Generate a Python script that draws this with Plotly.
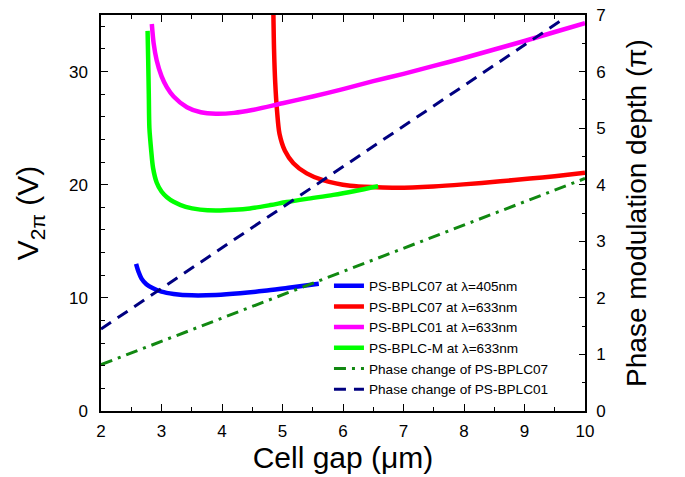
import plotly.graph_objects as go

# ---- data ----
blue_x = [2.58, 2.62, 2.67, 2.75, 2.86, 3.0, 3.2, 3.5, 3.9, 4.3, 4.7, 5.1, 5.6]
blue_v = [13.0, 12.3, 11.7, 11.2, 10.85, 10.55, 10.35, 10.22, 10.25, 10.4, 10.62, 10.9, 11.25]

red_x = [4.85, 4.86, 4.88, 4.91, 4.95, 5.04, 5.18, 5.4, 5.67, 6.12, 6.56, 6.89, 7.49, 7.99, 8.6, 9.09, 9.5, 10.0]
red_v = [35.0, 32.0, 29.0, 26.5, 24.5, 23.0, 21.9, 21.0, 20.4, 19.9, 19.78, 19.74, 19.85, 20.03, 20.3, 20.54, 20.75, 21.05]

mag_x = [2.84, 2.87, 2.92, 3.0, 3.09, 3.2, 3.42, 3.65, 3.9, 4.2, 4.5, 5.0, 5.5, 6.0, 6.5, 7.0, 7.5, 8.0, 8.5, 9.0, 9.5, 10.0]
mag_v = [34.2, 32.5, 31.0, 29.6, 28.6, 27.8, 26.85, 26.4, 26.27, 26.35, 26.6, 27.2, 27.8, 28.45, 29.15, 29.8, 30.5, 31.2, 31.95, 32.7, 33.5, 34.27]

grn_x = [2.77, 2.78, 2.79, 2.8, 2.83, 2.86, 2.92, 3.0, 3.09, 3.2, 3.4, 3.64, 3.9, 4.2, 4.46, 4.8, 5.07, 5.4, 5.84, 6.2, 6.58]
grn_v = [33.6, 31.0, 28.0, 25.0, 23.0, 21.5, 20.2, 19.4, 18.9, 18.5, 18.05, 17.8, 17.72, 17.78, 17.9, 18.2, 18.47, 18.75, 19.1, 19.45, 19.86]

ph07_x = [2.0, 10.0]
ph07_p = [0.82, 4.11]
ph01_x = [2.0, 9.6]
ph01_p = [1.45, 6.9]

names = [
    "PS-BPLC07 at λ=405nm",
    "PS-BPLC07 at λ=633nm",
    "PS-BPLC01 at λ=633nm",
    "PS-BPLC-M at λ=633nm",
    "Phase change of PS-BPLC07",
    "Phase change of PS-BPLC01",
]

FONT = "Liberation Sans, Arial, sans-serif"

fig = go.Figure()
for x, v, c, n in [(blue_x, blue_v, "#0000FF", names[0]),
                   (red_x, red_v, "#FF0000", names[1]),
                   (mag_x, mag_v, "#FF00FF", names[2]),
                   (grn_x, grn_v, "#00FF00", names[3])]:
    fig.add_trace(go.Scatter(x=x, y=v, mode="lines", name=n,
                             line=dict(color=c, width=4.5, shape="spline", smoothing=0.8)))

fig.add_trace(go.Scatter(x=ph07_x, y=ph07_p, mode="lines", name=names[4], yaxis="y2",
                         line=dict(color="#118811", width=3, dash="12px,6px,3px,6px")))
fig.add_trace(go.Scatter(x=ph01_x, y=ph01_p, mode="lines", name=names[5], yaxis="y2",
                         line=dict(color="#000080", width=3, dash="12px,8px")))
# empty helper trace so the top (frame) axis is drawn
fig.add_trace(go.Scatter(x=[], y=[], xaxis="x2", showlegend=False, hoverinfo="skip"))

axis_common = dict(showline=True, linecolor="black", linewidth=1.5, ticks="inside",
                   tickcolor="black", tickwidth=1.2, showgrid=False, zeroline=False,
                   automargin=False, ticklabeloverflow="allow",
                   tickfont=dict(family=FONT, size=17, color="black"))

fig.update_layout(
    width=685, height=477,
    margin=dict(l=93, r=108, t=7, b=74),
    paper_bgcolor="white", plot_bgcolor="white",
    font=dict(family=FONT, color="black"),
    showlegend=True,
    legend=dict(x=0.471, y=0.355, xanchor="left", yanchor="top",
                bgcolor="rgba(0,0,0,0)", font=dict(family=FONT, size=13.6, color="black"),
                tracegroupgap=0),
    xaxis=dict(range=[2, 10], dtick=1, ticklen=7,
               minor=dict(dtick=0.5, ticklen=4, ticks="inside", tickcolor="black"),
               ticklabelstandoff=4,
               title=dict(text="Cell gap (μm)", font=dict(family=FONT, size=30), standoff=6),
               **axis_common),
    xaxis2=dict(range=[2, 10], dtick=1, ticklen=7, overlaying="x", side="top", anchor="y",
                showticklabels=False,
                minor=dict(dtick=0.5, ticklen=4, ticks="inside", tickcolor="black"),
                **axis_common),
    yaxis=dict(range=[0, 35], dtick=10, ticklen=7,
               minor=dict(dtick=2, ticklen=4, ticks="inside", tickcolor="black"),
               ticklabelstandoff=8,
               title=dict(text="V<sub>2π</sub> (V)", font=dict(family=FONT, size=30), standoff=21),
               **axis_common),
    yaxis2=dict(range=[0, 7], dtick=1, ticklen=6, overlaying="y", side="right",
                minor=dict(dtick=0.5, ticklen=3, ticks="inside", tickcolor="black"),
                ticklabelstandoff=6,
                title=dict(text="Phase modulation depth (π)", font=dict(family=FONT, size=28), standoff=22),
                **axis_common),
)

fig.write_html("out.html")
